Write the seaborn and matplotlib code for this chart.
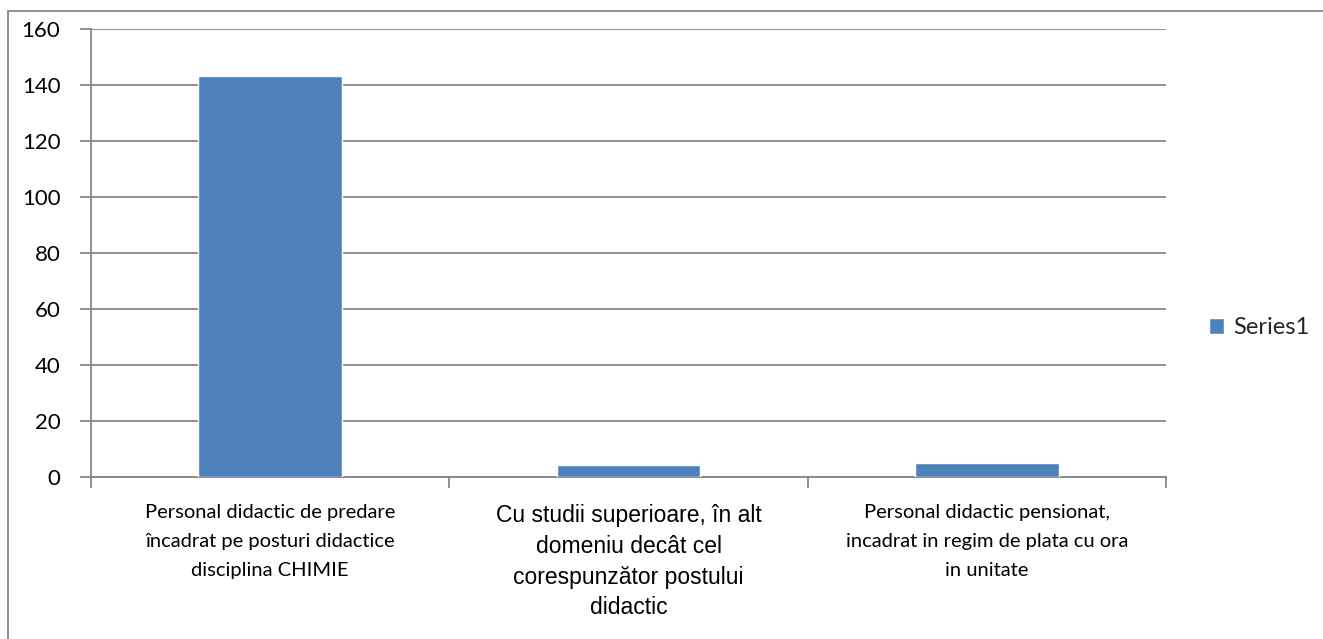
import numpy as np
import pandas as pd
import seaborn as sns
from matplotlib import pyplot as plt
from matplotlib.patches import Rectangle

# chart data
categorii = ['Personal didactic de predare\nîncadrat pe posturi didactice\ndisciplina CHIMIE',
             'Cu studii superioare, în alt\ndomeniu decât cel\ncorespunzător postului\ndidactic',
             'Personal didactic pensionat,\nincadrat in regim de plata cu ora\nin unitate']
valori = [143, 4, 5]
serie = 'Series1'
y_ticks = [0, 20, 40, 60, 80, 100, 120, 140, 160]

df = pd.DataFrame({'categorie': categorii, 'valoare': valori})

sns.set_theme(style="white")
plt.rcParams['font.family'] = ['Lato', 'DejaVu Sans']

grid_col = '#868686'
bar_col = '#4F81BD'

fig = plt.figure(figsize=(13.23, 6.39), dpi=100)
ax = fig.add_axes([91 / 1323, 1 - 476.7 / 639, (1166 - 91) / 1323, (476.7 - 28.7) / 639])

sns.barplot(data=df, x='categorie', y='valoare', color=bar_col, width=0.4,
            label=serie, saturation=1, ax=ax, zorder=3)

ax.set_xlim(-0.5, 2.5)
ax.set_ylim(0, 160)
ax.set_yticks(y_ticks)
ax.set_yticklabels([str(t) for t in y_ticks], fontsize=16, color='black')
ax.yaxis.grid(True, color=grid_col, linewidth=1.3)
ax.set_axisbelow(True)
ax.set_xlabel('')
ax.set_ylabel('')

# spines like excel
for s in ['top', 'right']:
    ax.spines[s].set_visible(False)
for s in ['left', 'bottom']:
    ax.spines[s].set_color(grid_col)
    ax.spines[s].set_linewidth(1.3)

ax.tick_params(axis='y', which='major', left=True, length=8, width=1.3,
               color=grid_col, pad=14)
ax.set_xticks([0, 1, 2])
ax.set_xticklabels(categorii, fontsize=14.5, color='black', linespacing=1.85)
ax.tick_params(axis='x', which='major', bottom=False, pad=14)
ax.set_xticks([-0.5, 0.5, 1.5, 2.5], minor=True)
ax.tick_params(axis='x', which='minor', bottom=True, length=8, width=1.3,
               color=grid_col)
for lbl in ax.get_xticklabels():
    lbl.set_verticalalignment('top')
mid = ax.get_xticklabels()[1]
mid.set_family(['Liberation Sans Narrow', 'Liberation Sans'])
mid.set_fontsize(16.5)
mid.set_linespacing(1.42)

leg = ax.legend(loc='center left', bbox_to_anchor=(1.02, 0.332), frameon=False,
                fontsize=17, handlelength=0.65, handleheight=0.65, handletextpad=0.4)

# outer chart frame (cropped on right and bottom)
fig.patches.append(Rectangle((8 / 1323, -0.1), 1.2, 1.1 - 11 / 639,
                             transform=fig.transFigure, fill=False,
                             edgecolor=grid_col, linewidth=1.3))

fig.savefig('out.png', dpi=100)
